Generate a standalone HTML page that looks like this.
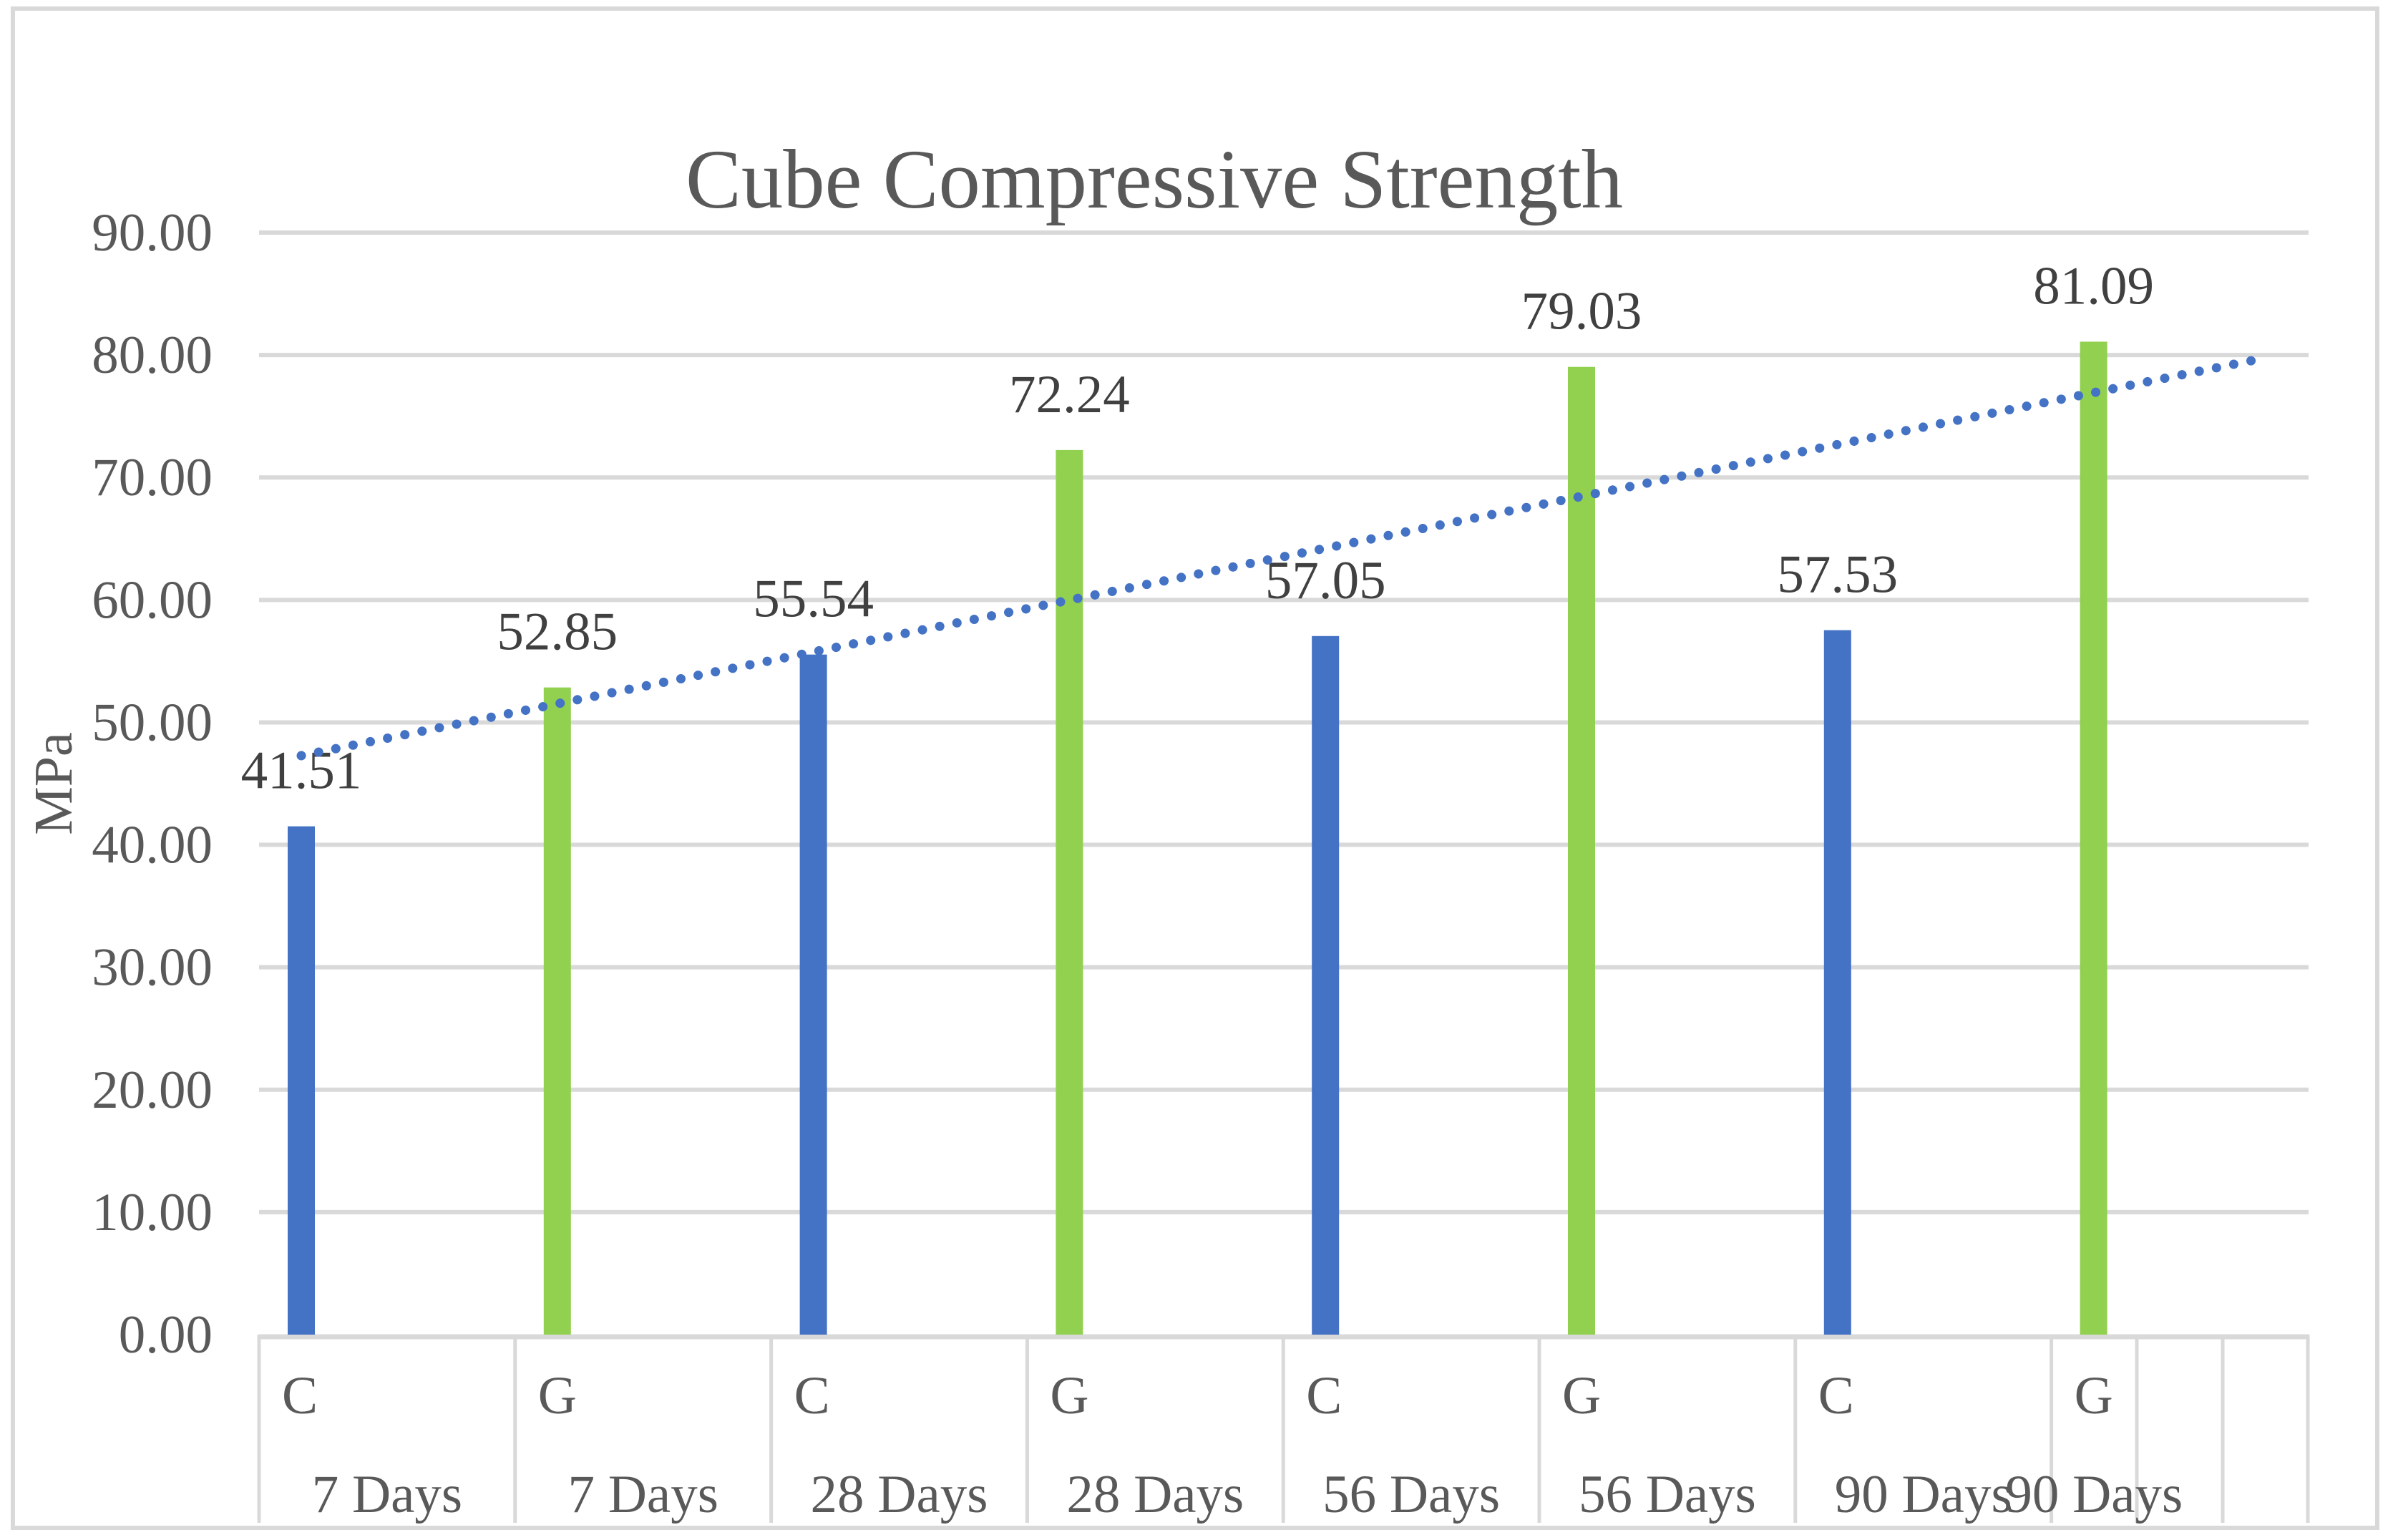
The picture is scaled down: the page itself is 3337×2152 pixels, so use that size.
<!DOCTYPE html>
<html><head><meta charset="utf-8"><style>
html,body{margin:0;padding:0;background:#fff;}
svg{display:block;}
text{font-family:"Liberation Serif","Times New Roman",serif;}
</style></head><body>
<svg id="chart" width="3337" height="2152" viewBox="0 0 3337 2152" xmlns="http://www.w3.org/2000/svg">
<rect x="18" y="12" width="3304" height="2123" fill="#fff" stroke="#d9d9d9" stroke-width="6"/>
<text x="1613" y="290" font-size="118" fill="#595959" text-anchor="middle" textLength="1310" lengthAdjust="spacingAndGlyphs">Cube Compressive Strength</text>
<text transform="translate(100,1095) rotate(-90)" font-size="76" fill="#595959" text-anchor="middle">MPa</text>
<g id="grid"></g>
<g id="ticks"></g>
<g id="cats"></g>
<g id="bars"></g>
<g id="labels"></g>
<g id="trend"></g>
</svg>
<script>
const categories = ["C","G","C","G","C","G","C","G"];
const groups = ["7 Days","7 Days","28 Days","28 Days","56 Days","56 Days","90 Days","90 Days"];
const values = [41.51,52.85,55.54,72.24,57.05,79.03,57.53,81.09];
const labels = ["41.51","52.85","55.54","72.24","57.05","79.03","57.53","81.09"];
const yTicks = [0,10,20,30,40,50,60,70,80,90];
const yTickLabels = ["0.00","10.00","20.00","30.00","40.00","50.00","60.00","70.00","80.00","90.00"];

const NS = "http://www.w3.org/2000/svg";
const plotL = 362, plotR = 3226, y0 = 1865, y90 = 325;
const step = 357.8;
function yScale(v){ return y0 - (v/90)*(y0-y90); }
function catLeft(i){ return plotL + i*step; }
function barCenter(i){ return catLeft(i) + 59; }
function mk(tag, attrs, parent){
  const e = document.createElementNS(NS, tag);
  for (const k in attrs) e.setAttribute(k, attrs[k]);
  parent.appendChild(e); return e;
}
const grid = document.getElementById('grid');
const ticks = document.getElementById('ticks');
yTicks.forEach((t,i)=>{
  if (t>0){
    const l = mk('line',{x1:plotL,x2:plotR,y1:yScale(t),y2:yScale(t),stroke:'#d9d9d9','stroke-width':6},grid);
    
    
  }
  const tx = mk('text',{x:297,y:yScale(t)+25,'font-size':75,fill:'#595959','text-anchor':'end'},ticks);
  tx.textContent = yTickLabels[i];
  
  
});
const cats = document.getElementById('cats');
const ax = mk('line',{x1:plotL,x2:plotR,y1:y0+3,y2:y0+3,stroke:'#d9d9d9','stroke-width':7},cats);


const seps = [];
for (let i=0;i<=7;i++) seps.push(catLeft(i));
seps.push(2986, 3106, 3225);
seps.forEach(x=>{
  const l = mk('line',{x1:x,x2:x,y1:y0,y2:2128,stroke:'#d9d9d9','stroke-width':5},cats);
  
  
});
categories.forEach((c,i)=>{
  const t = mk('text',{x:catLeft(i)+32,y:1975,'font-size':75,fill:'#595959'},cats);
  t.textContent = c;
  
  
  const right = i<7 ? catLeft(i+1) : 2986;
  const g = mk('text',{x:(catLeft(i)+right)/2,y:2113,'font-size':75,fill:'#595959','text-anchor':'middle'},cats);
  g.textContent = groups[i];
  
  
});
const bars = document.getElementById('bars');
const lbls = document.getElementById('labels');
values.forEach((v,i)=>{
  const b = mk('rect',{x:barCenter(i)-19,y:yScale(v),width:38,height:y0-yScale(v),fill:i%2===0?'#4472c4':'#92d050'},bars);
  
  
  const t = mk('text',{x:barCenter(i),y:yScale(v)-53,'font-size':75,fill:'#404040','text-anchor':'middle'},lbls);
  t.textContent = labels[i];
  
  
});
const n = values.length;
let mx=0,my=0; values.forEach((v,i)=>{mx+=i;my+=v;}); mx/=n; my/=n;
let sxy=0,sxx=0; values.forEach((v,i)=>{sxy+=(i-mx)*(v-my);sxx+=(i-mx)*(i-mx);});
const slope = sxy/sxx, icpt = my - slope*mx;
const xEnd = 7.62;
const tl = mk('line',{x1:barCenter(0),y1:yScale(icpt),x2:barCenter(0)+xEnd*step,y2:yScale(icpt+slope*xEnd),
  stroke:'#4472c4','stroke-width':13,'stroke-linecap':'round','stroke-dasharray':'0.1 24.5'},document.getElementById('trend'));


</script>
</body></html>
